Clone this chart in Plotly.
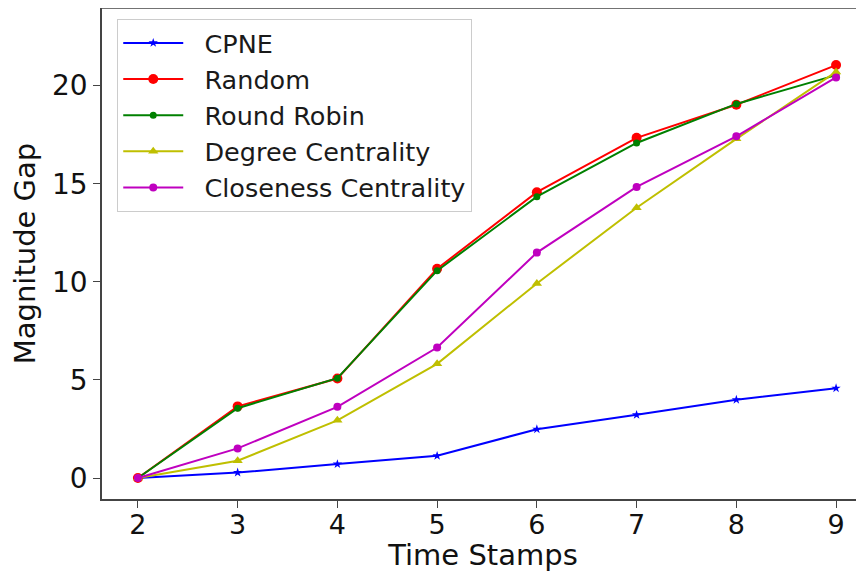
import plotly.graph_objects as go

time_stamps = [2, 3, 4, 5, 6, 7, 8, 9]
cpne = [0.0, 0.28, 0.71, 1.13, 2.49, 3.22, 3.99, 4.58]
random_ = [0.0, 3.65, 5.07, 10.67, 14.57, 17.34, 19.03, 21.05]
round_robin = [0.0, 3.56, 5.09, 10.57, 14.34, 17.08, 19.07, 20.54]
degree = [0.0, 0.88, 2.94, 5.82, 9.92, 13.78, 17.29, 20.70]
closeness = [0.0, 1.51, 3.63, 6.65, 11.49, 14.84, 17.42, 20.42]
y_ticks = [0, 5, 10, 15, 20]
series_names = ["CPNE", "Random", "Round Robin", "Degree Centrality", "Closeness Centrality"]

series = [
    (series_names[0], cpne, "#0000ff", "star", 7),
    (series_names[1], random_, "#ff0000", "circle", 10),
    (series_names[2], round_robin, "#008000", "circle", 7),
    (series_names[3], degree, "#bfbf00", "triangle-up", 9),
    (series_names[4], closeness, "#bf00bf", "circle", 8),
]

fig = go.Figure()
for name, vals, color, sym, size in series:
    fig.add_trace(go.Scatter(
        x=time_stamps, y=vals, name="\u00a0\u00a0" + name, mode="lines+markers",
        line=dict(color=color, width=2),
        marker=dict(symbol=sym, size=size, color=color),
    ))

font_family = "DejaVu Sans"
# The page body adds an 8px offset, so the figure is sized 8px smaller.
fig.update_layout(
    width=856, height=564,
    margin=dict(l=94, r=0, t=0, b=73),
    paper_bgcolor="white", plot_bgcolor="white",
    font=dict(family=font_family, color="#000000"),
    showlegend=True,
    legend=dict(
        x=0.02, y=0.978, xanchor="left", yanchor="top",
        bgcolor="rgba(255,255,255,0.8)", bordercolor="#cccccc", borderwidth=1,
        font=dict(size=25.5, family=font_family, color="#1a1a1a"),
        itemwidth=60, tracegroupgap=0,
    ),
    xaxis=dict(
        range=[1.64, 9.28], tickvals=time_stamps,
        showgrid=False, zeroline=False, automargin=False,
        showline=True, linecolor="#444444", linewidth=1.5,
        ticks="outside", ticklen=7, tickcolor="#444444", tickwidth=1.2,
        ticklabelstandoff=-6,
        tickfont=dict(size=27, family=font_family, color="#111111"),
        title=dict(text="Time Stamps", font=dict(size=29, family=font_family, color="#111111"), standoff=2),
    ),
    yaxis=dict(
        range=[-1.07, 23.96], tickvals=y_ticks,
        showgrid=False, zeroline=False, automargin=False,
        showline=True, linecolor="#444444", linewidth=1.5,
        ticks="outside", ticklen=7, tickcolor="#444444", tickwidth=1.2,
        tickfont=dict(size=28, family=font_family, color="#111111"),
        title=dict(text="Magnitude Gap", font=dict(size=29, family=font_family, color="#111111"), standoff=12),
    ),
)
# top spine
fig.add_shape(type="line", xref="paper", yref="paper", x0=0, x1=1, y0=1, y1=1,
              line=dict(color="#444444", width=1.5))

fig.write_html("out.html")
